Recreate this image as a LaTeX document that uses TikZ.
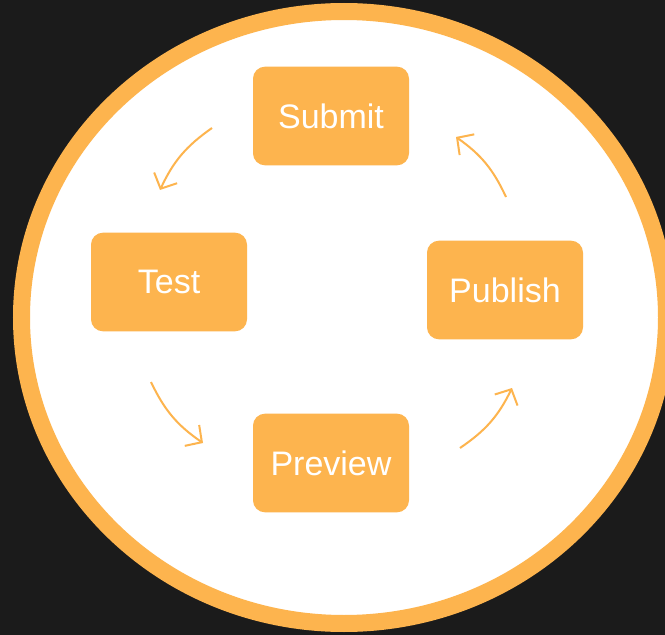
\documentclass[tikz,border=0pt]{standalone}
\usepackage{fontspec}
\setmainfont{Liberation Sans}
\usepackage{tikz}
\usetikzlibrary{arrows.meta}
\definecolor{bgdark}{HTML}{1B1B1B}
\definecolor{flowor}{HTML}{FDB44E}
\tikzset{
  stagebox/.style={fill=flowor, rounded corners=9pt, minimum width=117pt, minimum height=74pt,
    text=white, font=\fontsize{25.5}{30}\selectfont},
  cyclearrow/.style={draw=flowor, line width=1.5pt, -{Straight Barb[length=9pt,width=19pt,line width=1.5pt]}}
}

\begin{document}
\begin{tikzpicture}[x=0.75pt,y=-0.75pt]
\fill[bgdark] (0,0) rectangle (665,635);
\useasboundingbox (0,0) rectangle (665,635);
\draw[flowor, fill=white, line width=12.75pt] (344,317.5) ellipse [x radius=322.5, y radius=306];

\node[stagebox] (submit) at (331,116) {Submit};
\node[stagebox] (test) at (169,282) {Test};
\node[stagebox] (publish) at (505,290) {Publish};
\node[stagebox] (preview) at (331,463) {Preview};

% free ends of the cycle arrows
\coordinate (a1) at (212,128);  \coordinate (b1) at (160,190);
\coordinate (a2) at (151,382);  \coordinate (b2) at (203,443);
\coordinate (a3) at (460,448);  \coordinate (b3) at (512,388);
\coordinate (a4) at (506,197);  \coordinate (b4) at (456,137);

\draw[cyclearrow] (a1) to[bend right=15] (b1);
\draw[cyclearrow] (a2) to[bend right=15] (b2);
\draw[cyclearrow] (a3) to[bend right=15] (b3);
\draw[cyclearrow] (a4) to[bend right=15] (b4);
\end{tikzpicture}
\end{document}
